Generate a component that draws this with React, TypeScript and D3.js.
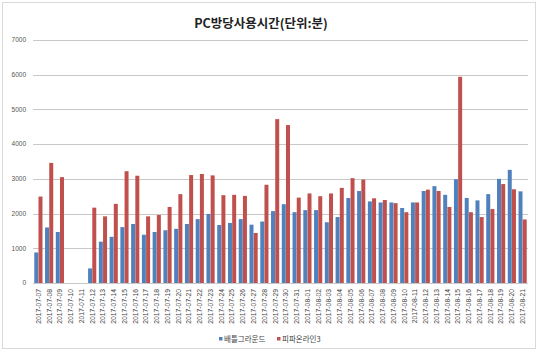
import { useRef, useEffect } from 'react';
import * as d3 from 'd3';

// 2017-07-07 .. 2017-08-21 daily
const dates = [
  '2017-07-07', '2017-07-08', '2017-07-09', '2017-07-10', '2017-07-11', '2017-07-12',
  '2017-07-13', '2017-07-14', '2017-07-15', '2017-07-16', '2017-07-17', '2017-07-18',
  '2017-07-19', '2017-07-20', '2017-07-21', '2017-07-22', '2017-07-23', '2017-07-24',
  '2017-07-25', '2017-07-26', '2017-07-27', '2017-07-28', '2017-07-29', '2017-07-30',
  '2017-07-31', '2017-08-01', '2017-08-02', '2017-08-03', '2017-08-04', '2017-08-05',
  '2017-08-06', '2017-08-07', '2017-08-08', '2017-08-09', '2017-08-10', '2017-08-11',
  '2017-08-12', '2017-08-13', '2017-08-14', '2017-08-15', '2017-08-16', '2017-08-17',
  '2017-08-18', '2017-08-19', '2017-08-20', '2017-08-21'
];

const battleground = [
  880, 1600, 1470, 0, 0, 420, 1190, 1330, 1610, 1700, 1390, 1470,
  1520, 1560, 1700, 1840, 1990, 1670, 1730, 1840, 1680, 1770, 2070, 2270,
  2040, 2100, 2100, 1750, 1900, 2450, 2650, 2350, 2320, 2320, 2160, 2320,
  2650, 2790, 2540, 2990, 2450, 2380, 2560, 3000, 3260, 2640
];

const fifa3 = [
  2490, 3460, 3050, 0, 0, 2170, 1920, 2280, 3220, 3090, 1920, 1960,
  2190, 2560, 3110, 3140, 3100, 2530, 2540, 2510, 1440, 2830, 4720, 4550,
  2460, 2580, 2500, 2580, 2740, 3020, 2980, 2440, 2390, 2300, 2040, 2320,
  2690, 2650, 2190, 5940, 2040, 1900, 2130, 2850, 2700, 1830
];

const seriesNames = ['배틀그라운드', '피파온라인3'];
const seriesColors = ['#4F81BD', '#C0504D'];
const yTicks = [0, 1000, 2000, 3000, 4000, 5000, 6000, 7000];

const W = 540;
const H = 353;

export default function App() {
  const svgRef = useRef<SVGSVGElement>(null);

  useEffect(() => {
    const svg = d3.select(svgRef.current);
    svg.selectAll('*').remove();

    const font = 'Liberation Sans, Noto Sans CJK KR, sans-serif';

    // chart border
    svg.append('rect')
      .attr('x', 2.5).attr('y', 2.5)
      .attr('width', 533).attr('height', 346)
      .attr('fill', '#fff')
      .attr('stroke', '#d9d9d9');

    svg.append('text')
      .attr('x', 261).attr('y', 28)
      .attr('text-anchor', 'middle')
      .attr('font-family', 'Noto Sans CJK KR, sans-serif')
      .attr('font-weight', 'bold')
      .attr('font-size', '12.5px')
      .attr('fill', '#222')
      .text('PC방당사용시간(단위:분)');

    const x = d3.scaleBand().domain(dates).range([33, 528]).paddingInner(0.2).paddingOuter(0.1);
    const xs = d3.scaleBand().domain(['0', '1']).range([0, x.bandwidth()]).padding(0.05);
    const y = d3.scaleLinear().domain([0, 7000]).range([283, 40]);

    // gridlines + y labels
    const grid = svg.append('g');
    grid.selectAll('line')
      .data(yTicks)
      .join('line')
      .attr('x1', 33).attr('x2', 528)
      .attr('y1', function (d) { return Math.round(y(d)) + 0.5; })
      .attr('y2', function (d) { return Math.round(y(d)) + 0.5; })
      .attr('stroke', '#c8c8c8');
    grid.selectAll('text')
      .data(yTicks)
      .join('text')
      .attr('x', 26)
      .attr('y', function (d) { return y(d); })
      .attr('dy', '0.35em')
      .attr('text-anchor', 'end')
      .attr('font-family', font)
      .attr('font-size', '6.5px')
      .attr('fill', '#555')
      .text(function (d) { return String(d); });

    // bars
    const series = [battleground, fifa3];
    series.forEach(function (vals, si) {
      svg.append('g')
        .selectAll('rect')
        .data(vals)
        .join('rect')
        .attr('x', function (d, i) { return (x(dates[i]) || 0) + (xs(String(si)) || 0); })
        .attr('y', function (d) { return y(d); })
        .attr('width', xs.bandwidth())
        .attr('height', function (d) { return y(0) - y(d); })
        .attr('fill', seriesColors[si]);
    });

    // x labels
    svg.append('g')
      .selectAll('text')
      .data(dates)
      .join('text')
      .attr('transform', function (d) { return 'translate(' + ((x(d) || 0) + x.bandwidth() / 2) + ',289) rotate(-90)'; })
      .attr('dy', '0.35em')
      .attr('text-anchor', 'end')
      .attr('font-family', font)
      .attr('font-size', '6.8px')
      .attr('fill', '#444')
      .text(function (d) { return d; });

    // legend
    const legendX = [219, 277];
    seriesNames.forEach(function (name, i) {
      svg.append('rect')
        .attr('x', legendX[i]).attr('y', 337)
        .attr('width', 3.5).attr('height', 3.5)
        .attr('fill', seriesColors[i]);
      svg.append('text')
        .attr('x', legendX[i] + 5).attr('y', 342)
        .attr('font-family', 'Noto Sans CJK KR, sans-serif')
        .attr('font-size', '7.5px')
        .attr('fill', '#444')
        .text(name);
    });
  }, []);

  return (
    <svg
      ref={svgRef}
      width={W}
      height={H}
      style={{ position: 'absolute', left: 0, top: 0, background: '#fff' }}
    />
  );
}
